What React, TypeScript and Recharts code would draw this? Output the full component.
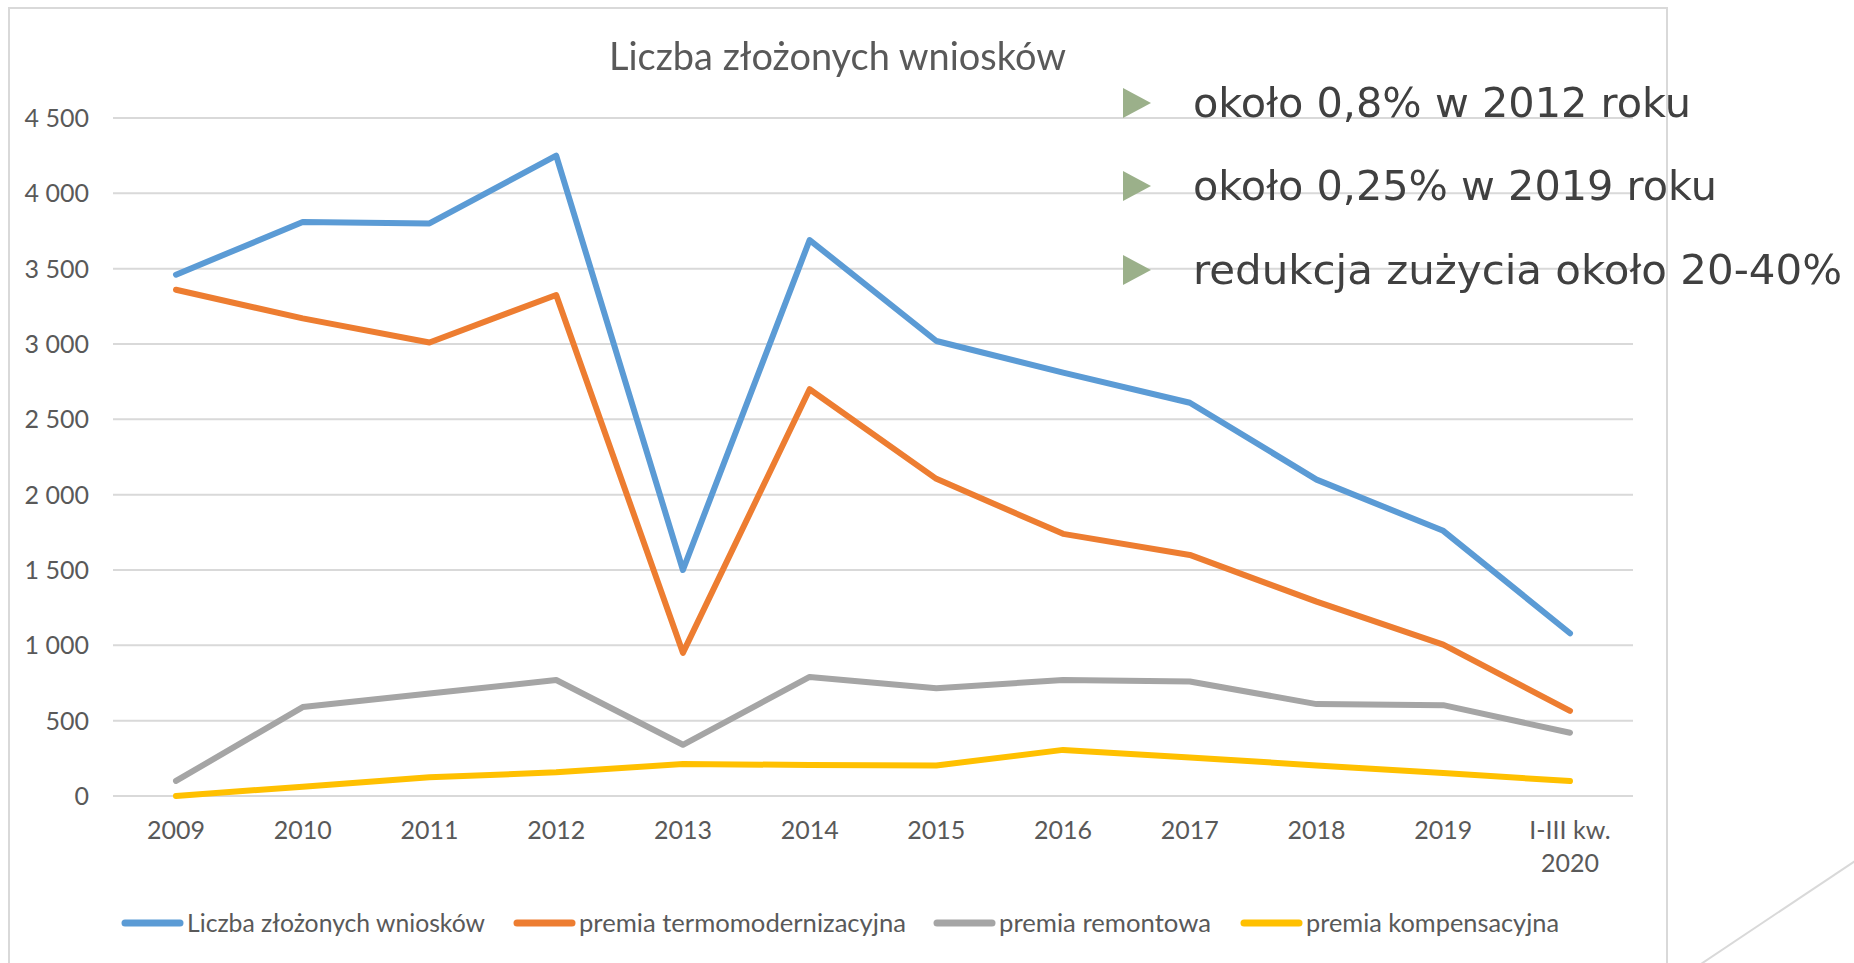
import React from 'react';
import { LineChart, Line, XAxis, YAxis, CartesianGrid, Legend } from 'recharts';

const CATEGORIES = ['2009', '2010', '2011', '2012', '2013', '2014', '2015', '2016', '2017', '2018', '2019', 'I-III kw.\n2020'];
const SERIES_NAMES = ['Liczba złożonych wniosków', 'premia termomodernizacyjna', 'premia remontowa', 'premia kompensacyjna'];
const WNIOSKI = [3460, 3810, 3800, 4250, 1500, 3690, 3020, 2810, 2610, 2100, 1760, 1080];
const TERMO = [3360, 3170, 3010, 3325, 950, 2700, 2105, 1740, 1600, 1290, 1005, 565];
const REMONT = [100, 590, 680, 770, 340, 790, 715, 770, 760, 610, 603, 420];
const KOMPENS = [0, 62, 124, 157, 212, 206, 203, 306, 256, 203, 152, 99];
const Y_TICKS = [0, 500, 1000, 1500, 2000, 2500, 3000, 3500, 4000, 4500];
const TITLE = 'Liczba złożonych wniosków';
const BULLETS = ['około 0,8% w 2012 roku', 'około 0,25% w 2019 roku', 'redukcja zużycia około 20-40%'];

const COLORS = ['#5B9BD5', '#ED7D31', '#A5A5A5', '#FFC000'];
const KEYS = ['wnioski', 'termo', 'remont', 'kompens'];

const data = CATEGORIES.map((c, i) => ({
  cat: c,
  wnioski: WNIOSKI[i],
  termo: TERMO[i],
  remont: REMONT[i],
  kompens: KOMPENS[i],
}));

const fmt = (v: number) =>
  v >= 1000 ? `${Math.floor(v / 1000)} ${String(v % 1000).padStart(3, '0')}` : String(v);

const FONT = 'Lato, "Open Sans", sans-serif';
const TXT = '#595959';

const YTick = (props: any) => {
  const { x, y, payload } = props;
  return (
    <text x={x} y={y} dy="0.36em" textAnchor="end" fontFamily={FONT} fontSize={25} fill={TXT}>
      {fmt(payload.value)}
    </text>
  );
};

const XTick = (props: any) => {
  const { x, y, payload } = props;
  const lines = String(payload.value).split('\n');
  return (
    <g>
      {lines.map((l, i) => (
        <text key={i} x={x} y={y + 43 + i * 33} textAnchor="middle" fontFamily={FONT} fontSize={25} fill={TXT}>
          {l}
        </text>
      ))}
    </g>
  );
};

const LEGEND_SAMPLE_X = [114, 506, 926, 1233];
const LEGEND_TEXT_W = [298, 327, 212, 253];

const renderLegend = (props: any) => {
  const payload = props.payload || [];
  return (
    <svg width={1838} height={50} style={{ display: 'block' }}>
      {payload.map((p: any) => {
        const i = SERIES_NAMES.indexOf(p.value);
        if (i < 0) return null;
        return (
          <g key={p.value}>
            <line
              x1={LEGEND_SAMPLE_X[i] + 3}
              x2={LEGEND_SAMPLE_X[i] + 58}
              y1={25}
              y2={25}
              stroke={p.color}
              strokeWidth={7}
              strokeLinecap="round"
            />
            <text
              x={LEGEND_SAMPLE_X[i] + 65}
              y={34}
              fontFamily={FONT}
              fontSize={25}
              fill={TXT}
              textLength={LEGEND_TEXT_W[i]}
              lengthAdjust="spacingAndGlyphs"
            >
              {p.value}
            </text>
          </g>
        );
      })}
    </svg>
  );
};

const BULLET_BASE = [117, 200, 284];
const BULLET_W = [498, 524, 649];

export default function App() {
  return (
    <div style={{ position: 'relative', width: 1838, height: 947, background: '#fff' }}>
      <LineChart
        width={1838}
        height={947}
        data={data}
        margin={{ top: 110, right: 213, left: 0, bottom: 0 }}
      >
        <CartesianGrid horizontal vertical={false} stroke="#D9D9D9" strokeWidth={2} />
        <XAxis
          dataKey="cat"
          type="category"
          height={159}
          padding={{ left: 63, right: 63 }}
          axisLine={false}
          tickLine={false}
          tickSize={0}
          tickMargin={0}
          interval={0}
          tick={XTick}
        />
        <YAxis
          domain={[0, 4500]}
          ticks={Y_TICKS}
          width={105}
          axisLine={false}
          tickLine={false}
          tickSize={0}
          tickMargin={24}
          interval={0}
          tick={YTick}
        />
        <Legend
          verticalAlign="middle"
          layout="horizontal"
          itemSorter={null as any}
          content={renderLegend}
          wrapperStyle={{ top: 890, left: 0, width: 1838, height: 50 }}
        />
        {KEYS.map((k, i) => (
          <Line
            key={k}
            type="linear"
            dataKey={k}
            name={SERIES_NAMES[i]}
            stroke={COLORS[i]}
            strokeWidth={6}
            strokeLinejoin="round"
            strokeLinecap="round"
            dot={false}
            activeDot={false}
            isAnimationActive={false}
          />
        ))}
      </LineChart>
      <svg
        width={1854}
        height={963}
        style={{ position: 'fixed', left: 0, top: 0, pointerEvents: 'none' }}
      >
        <rect x={9} y={8} width={1658} height={1000} fill="none" stroke="#D9D9D9" strokeWidth={2} />
        <line x1={1680} y1={978} x2={1870} y2={851} stroke="#D9D9D9" strokeWidth={2} />
        <text
          x={609}
          y={70}
          fontFamily={FONT}
          fontSize={38}
          fill={TXT}
          textLength={457}
          lengthAdjust="spacingAndGlyphs"
        >
          {TITLE}
        </text>
        {BULLETS.map((b, i) => {
          const base = BULLET_BASE[i];
          const cy = base - 14;
          return (
            <g key={i}>
              <polygon
                points={`1123,${cy - 15} 1123,${cy + 15} 1151,${cy}`}
                fill="#9BB08A"
              />
              <text
                x={1193}
                y={base}
                fontFamily='"DejaVu Sans", Verdana, sans-serif'
                fontSize={41}
                fill="#404040"
                textLength={BULLET_W[i]}
                lengthAdjust="spacingAndGlyphs"
              >
                {b}
              </text>
            </g>
          );
        })}
      </svg>
    </div>
  );
}
